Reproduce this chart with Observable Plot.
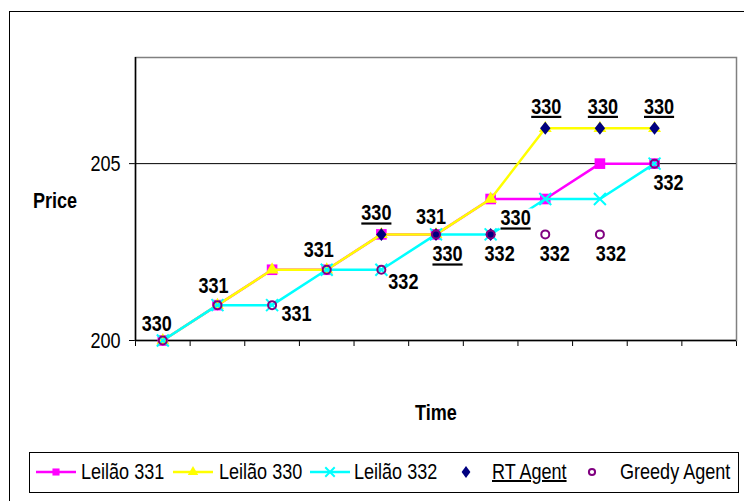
<!DOCTYPE html>
<html>
<head>
<meta charset="utf-8">
<script src="https://cdn.jsdelivr.net/npm/d3@7"></script>
<script src="https://cdn.jsdelivr.net/npm/@observablehq/plot@0.6"></script>
<style>
  html, body { margin: 0; padding: 0; background: #fff; }
  body { width: 744px; height: 501px; overflow: hidden; position: relative;
         font-family: "Liberation Sans", Arial, sans-serif; }
  #outer { position: absolute; left: 8.5px; top: 11px; width: 800px; height: 600px;
           border: 1.5px solid #000; box-sizing: border-box; }
  #chart { position: absolute; left: 0; top: 0; }
  #legend { position: absolute; left: 28.5px; top: 451.5px; width: 710px; height: 41px;
            border: 1.5px solid #000; box-sizing: border-box; background: #fff; }
  .item { position: absolute; top: 0; height: 38px; line-height: 38px; font-size: 22px; color: #000;
          white-space: nowrap; transform: scaleX(0.82); transform-origin: 0 50%; }
  .sw { position: absolute; top: 9px; }
</style>
</head>
<body>
<div id="outer"></div>
<div id="chart"></div>
<div id="legend"></div>
<script>
// ---- data ----
const times = [1, 2, 3, 4, 5, 6, 7, 8, 9, 10];
const leilao331 = [200, 201, 202, 202, 203, 203, 204, 204, 205, 205];
const leilao330 = [200, 201, 202, 202, 203, 203, 204, 206, 206, 206];
const leilao332 = [200, 201, 201, 202, 202, 203, 203, 204, 204, 205];
const rtAgent = [null, null, null, null, 203, 203, 203, 206, 206, 206];
const greedyAgent = [200, 201, 201, 202, 202, 203, 203, 203, 203, 205];
const rtLabels = [null, null, null, null, "330", "330", "330", "330", "330", "330"];
const greedyLabels = ["330", "331", "331", "331", "332", "331", "332", "332", "332", "332"];
const yTicks = [200, 205];
const seriesNames = ["Leilão 331", "Leilão 330", "Leilão 332", "RT Agent", "Greedy Agent"];

// ---- label placement (style, not data) ----
const greedyOffsets = [[-6,-16.5],[-4,-19],[24.5,9],[-8,-20],[22,12],[-5,-17.5],[9,20],[9.5,20],[11,20],[14,19.5]];
const rtOffsets = [null,null,null,null,[-5,-21],[11.5,20],[25,-16],[1,-21.5],[3,-21.5],[4.5,-21.5]];

const FONT = '"Liberation Sans", Arial, sans-serif';
const MAGENTA = "#FF00FF", YELLOW = "#FFFF00", CYAN = "#00FFFF", NAVY = "#000080", PURPLE = "#800080";

const idx = times.map((_, i) => i);
const rtIdx = idx.filter(i => rtAgent[i] != null);
const xTicks = d3.range(0, times.length + 2).map(d => d + 0.5);

// white box symbol behind data labels (Excel-style label background)
const labelBox = { draw(ctx) { ctx.rect(-17, -10, 34, 20); } };
// Excel-style diamond (a bit wider than d3's)
const excelDiamond = { draw(ctx) { ctx.moveTo(0, -6.5); ctx.lineTo(5.2, 0); ctx.lineTo(0, 6.5); ctx.lineTo(-5.2, 0); ctx.closePath(); } };

const greedyTextMarks = idx.map(i => Plot.text([i], {
  x: j => times[j], y: j => greedyAgent[j], text: j => greedyLabels[j],
  dx: greedyOffsets[i][0], dy: greedyOffsets[i][1],
  fontSize: 22, fontWeight: "bold", fill: "black", fontFamily: FONT
}));
const rtBoxMarks = rtIdx.map(i => Plot.dot([i], {
  x: j => times[j], y: j => rtAgent[j], symbol: labelBox, fill: "white",
  dx: rtOffsets[i][0], dy: rtOffsets[i][1]
}));
const rtTextMarks = rtIdx.map(i => Plot.text([i], {
  x: j => times[j], y: j => rtAgent[j], text: j => rtLabels[j],
  dx: rtOffsets[i][0], dy: rtOffsets[i][1],
  fontSize: 22, fontWeight: "bold", fill: "#010101", fontFamily: FONT
}));

const chart = Plot.plot({
  width: 744,
  height: 440,
  marginLeft: 135,
  marginRight: 8,
  marginTop: 57,
  marginBottom: 100,
  style: { fontFamily: FONT, fontSize: "22px", color: "black", background: "transparent", overflow: "visible" },
  x: { type: "linear", domain: [0.5, times.length + 1.5], ticks: xTicks, tickFormat: () => "", tickSize: 6, label: null },
  y: { domain: [200, 208], ticks: yTicks, tickSize: 6, tickPadding: 9, label: null },
  marks: [
    Plot.frame({ stroke: "#808080", strokeWidth: 1.5 }),
    Plot.ruleY([yTicks[1]], { stroke: "black", strokeWidth: 1 }),
    Plot.ruleY([yTicks[0]], { stroke: "black", strokeWidth: 1.5 }),
    Plot.ruleX([0.5], { stroke: "black", strokeWidth: 1.5 }),
    Plot.text(["Price"], { frameAnchor: "left", textAnchor: "middle", lineAnchor: "middle", dx: -80.5, dy: 1.5, fontSize: 22, fontWeight: "bold", fontFamily: FONT }),
    Plot.text(["Time"], { frameAnchor: "bottom", textAnchor: "middle", lineAnchor: "middle", dy: 72, fontSize: 22, fontWeight: "bold", fontFamily: FONT }),
    // Leilão 331
    Plot.line(idx, { x: i => times[i], y: i => leilao331[i], stroke: MAGENTA, strokeWidth: 2.5 }),
    Plot.dot(idx, { x: i => times[i], y: i => leilao331[i], symbol: "square", r: 6, fill: MAGENTA }),
    // Leilão 330
    Plot.line(idx, { x: i => times[i], y: i => leilao330[i], stroke: YELLOW, strokeWidth: 2.5 }),
    Plot.dot(idx, { x: i => times[i], y: i => leilao330[i], symbol: "triangle", r: 4.8, fill: YELLOW }),
    // Leilão 332
    Plot.line(idx, { x: i => times[i], y: i => leilao332[i], stroke: CYAN, strokeWidth: 2.5 }),
    Plot.dot(idx, { x: i => times[i], y: i => leilao332[i], symbol: "times", r: 5.5, stroke: CYAN, strokeWidth: 2 }),
    // RT Agent
    Plot.dot(rtIdx, { x: i => times[i], y: i => rtAgent[i], symbol: excelDiamond, fill: NAVY }),
    // Greedy Agent
    Plot.dot(idx, { x: i => times[i], y: i => greedyAgent[i], symbol: "circle", r: 4, stroke: PURPLE, strokeWidth: 2, fill: "none" }),
    ...rtBoxMarks,
    ...greedyTextMarks,
    ...rtTextMarks
  ]
});
document.getElementById("chart").appendChild(chart);
d3.select(chart).selectAll('g[fill="#010101"] text')
  .style("text-decoration", "underline")
  .style("text-decoration-thickness", "2px");
// condense every text horizontally (the reference uses a narrow face)
d3.select(chart).selectAll("text").each(function () {
  const w = this.getComputedTextLength();
  if (w > 0) {
    this.setAttribute("textLength", (w * 0.82).toFixed(2));
    this.setAttribute("lengthAdjust", "spacingAndGlyphs");
  }
});

// ---- legend ----
const legend = d3.select("#legend");
const legendItems = [
  { name: seriesNames[0], color: MAGENTA, sym: "square", line: true, swX: 5, textX: 51 },
  { name: seriesNames[1], color: YELLOW, sym: "triangle", line: true, swX: 142, textX: 189 },
  { name: seriesNames[2], color: CYAN, sym: "times", line: true, swX: 279, textX: 324 },
  { name: seriesNames[3], color: NAVY, sym: "diamond", line: false, swX: 415, textX: 462, underline: true },
  { name: seriesNames[4], color: PURPLE, sym: "circle", line: false, swX: 541, textX: 590 }
];
const symPath = {
  square: d3.symbol(d3.symbolSquare, 50)(),
  triangle: d3.symbol(d3.symbolTriangle, 48)(),
  times: d3.symbol(d3.symbolTimes, 60)(),
  diamond: "M0,-6L4.4,0L0,6L-4.4,0Z",
  circle: d3.symbol(d3.symbolCircle, 30)()
};
legendItems.forEach(it => {
  const sw = legend.append("svg").attr("class", "sw").attr("width", 42).attr("height", 20)
    .style("left", it.swX + "px");
  if (it.line) sw.append("line").attr("x1", 1).attr("x2", 41).attr("y1", 10).attr("y2", 10)
    .attr("stroke", it.color).attr("stroke-width", 2.5);
  const p = sw.append("path").attr("d", symPath[it.sym]).attr("transform", "translate(21,10)");
  if (it.sym === "times" || it.sym === "circle") p.attr("fill", "none").attr("stroke", it.color).attr("stroke-width", 2);
  else p.attr("fill", it.color);
  legend.append("div").attr("class", "item").style("left", it.textX + "px")
    .style("text-decoration", it.underline ? "underline" : null)
    .style("text-decoration-thickness", it.underline ? "2px" : null)
    .text(it.name);
});
</script>
</body>
</html>
